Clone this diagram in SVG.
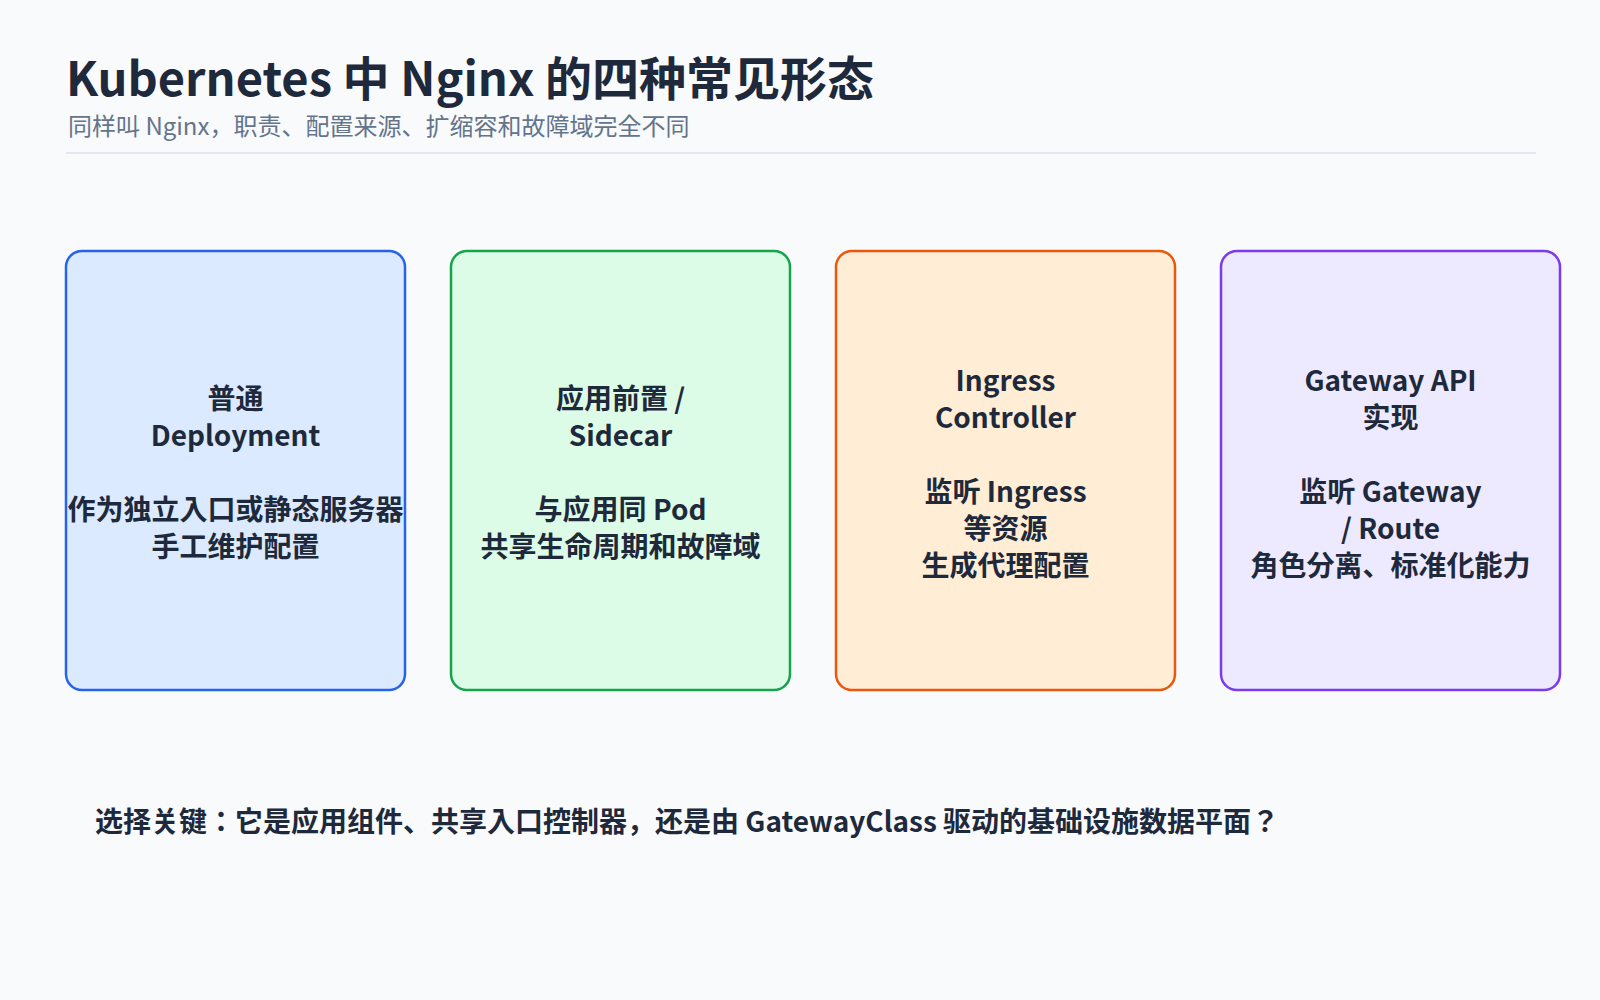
<svg xmlns="http://www.w3.org/2000/svg" width="1600" height="1000" viewBox="0 0 1600 1000">
<style>
text{font-family:"Noto Sans CJK JP","Noto Sans",sans-serif}
.t{font-size:47px;font-weight:700;fill:#1e293b}
.s{font-size:24px;fill:#64748b}
.n{font-size:28px;font-weight:700;fill:#1e293b;text-anchor:middle}
.b{stroke-width:2.5}
</style>
<rect width="1600" height="1000" fill="#f8fafc"/>
<text class="t" x="66" y="96">Kubernetes 中 Nginx 的四种常见形态</text>
<text class="s" x="68" y="135">同样叫 Nginx，职责、配置来源、扩缩容和故障域完全不同</text>
<line x1="66" y1="153" x2="1536" y2="153" stroke="#e2e8f0" stroke-width="2"/>
<g id="connectors"></g>
<g id="n1"><rect class="b" x="66" y="251" width="339" height="439" rx="16" fill="#dbeafe" stroke="#2563eb"/>
<text class="n" x="235.5" y="409">普通</text><text class="n" x="235.5" y="446">Deployment</text>
<text class="n" x="235.5" y="520">作为独立入口或静态服务器</text><text class="n" x="235.5" y="557">手工维护配置</text></g>
<g id="n2"><rect class="b" x="451" y="251" width="339" height="439" rx="16" fill="#dcfce7" stroke="#16a34a"/>
<text class="n" x="620.5" y="409">应用前置 /</text><text class="n" x="620.5" y="446">Sidecar</text>
<text class="n" x="620.5" y="520">与应用同 Pod</text><text class="n" x="620.5" y="557">共享生命周期和故障域</text></g>
<g id="n3"><rect class="b" x="836" y="251" width="339" height="439" rx="16" fill="#ffedd5" stroke="#ea580c"/>
<text class="n" x="1005.5" y="391">Ingress</text><text class="n" x="1005.5" y="428">Controller</text>
<text class="n" x="1005.5" y="502">监听 Ingress</text><text class="n" x="1005.5" y="539">等资源</text><text class="n" x="1005.5" y="576">生成代理配置</text></g>
<g id="n4"><rect class="b" x="1221" y="251" width="339" height="439" rx="16" fill="#ede9fe" stroke="#7c3aed"/>
<text class="n" x="1390.5" y="391">Gateway API</text><text class="n" x="1390.5" y="428">实现</text>
<text class="n" x="1390.5" y="502">监听 Gateway</text><text class="n" x="1390.5" y="539">/ Route</text><text class="n" x="1390.5" y="576">角色分离、标准化能力</text></g>
<text x="95" y="832" style="font-size:28px;font-weight:700;fill:#1e293b">选择关键：它是应用组件、共享入口控制器，还是由 GatewayClass 驱动的基础设施数据平面？</text>
</svg>
